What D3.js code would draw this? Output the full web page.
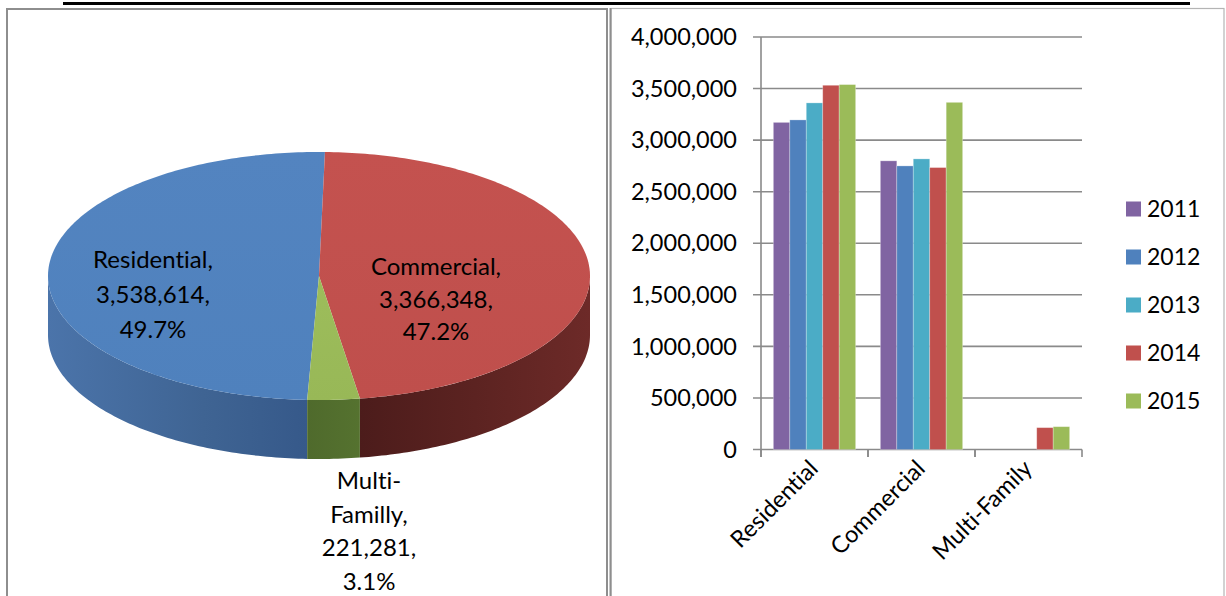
<!DOCTYPE html>
<html>
<head>
<meta charset="utf-8">
<script src="https://cdn.jsdelivr.net/npm/d3@7/dist/d3.min.js"></script>
<style>
  html, body { margin: 0; padding: 0; background: #fff; }
  svg { display: block; font-family: Lato, "Open Sans", sans-serif;
        font-variant-ligatures: none; font-feature-settings: "liga" 0, "clig" 0; }
</style>
</head>
<body>
<svg id="chart" width="1226" height="596"></svg>
<script>
// ---- data ----
const categories = ["Residential", "Commercial", "Multi-Family"];
const years = ["2011", "2012", "2013", "2014", "2015"];
const residential = [3172000, 3196000, 3361000, 3532000, 3538614];
const commercial  = [2799000, 2750000, 2818000, 2734000, 3366348];
const multiFamily = [0, 0, 0, 212000, 221281];
const yTicks = [0, 500000, 1000000, 1500000, 2000000, 2500000, 3000000, 3500000, 4000000];

// 2015 totals shown in the pie
const pieNames  = ["Residential", "Commercial", "Multi-Familly"];
const pieValues = [3538614, 3366348, 221281];

const yearColors = ["#8064a2", "#4f81bd", "#4bacc6", "#c0504d", "#9bbb59"];

const svg = d3.select("#chart");
const defs = svg.append("defs");

// ---- title underline and panel frames ----
svg.append("line").attr("x1", 63).attr("x2", 1190).attr("y1", 3.5).attr("y2", 3.5)
  .attr("stroke", "#000").attr("stroke-width", 3);
svg.append("rect").attr("x", 7).attr("y", 9).attr("width", 600).attr("height", 600)
  .attr("fill", "none").attr("stroke", "#8e8e8e").attr("stroke-width", 2);
svg.append("rect").attr("x", 611).attr("y", 8.5).attr("width", 613).attr("height", 600)
  .attr("fill", "none").attr("stroke", "#b4b4b4").attr("stroke-width", 1.2);
svg.append("line").attr("x1", 610.5).attr("x2", 610.5).attr("y1", 8).attr("y2", 596)
  .attr("stroke", "#8e8e8e").attr("stroke-width", 2);

// ---- 3D pie ----
const P = { cx: 319, cy: 276, rx: 271, ry: 124, depth: 59 };
const total = d3.sum(pieValues);
const START = 182.5 * Math.PI / 180;
const pie = d3.pie().sort(null).startAngle(START).endAngle(START + 2 * Math.PI);
const arcs = pie(pieValues).map((d, i) => ({ ...d, i }));

const px = a => P.cx + P.rx * Math.sin(a);
const py = (a, dz = 0) => P.cy - P.ry * Math.cos(a) + dz;

function topPath(a0, a1) {
  const n = Math.max(8, Math.ceil((a1 - a0) * 60));
  let s = `M${P.cx},${P.cy}`;
  for (let k = 0; k <= n; k++) {
    const a = a0 + (a1 - a0) * k / n;
    s += `L${px(a)},${py(a)}`;
  }
  return s + "Z";
}
function wallPath(a0, a1) {
  const n = Math.max(8, Math.ceil((a1 - a0) * 60));
  let s = "";
  for (let k = 0; k <= n; k++) {
    const a = a0 + (a1 - a0) * k / n;
    s += (k ? "L" : "M") + `${px(a)},${py(a)}`;
  }
  for (let k = n; k >= 0; k--) {
    const a = a0 + (a1 - a0) * k / n;
    s += `L${px(a)},${py(a, P.depth)}`;
  }
  return s + "Z";
}

// side wall gradients (darker towards the front-centre)
const wallStops = [
  [["#4b74aa", 0], ["#3f6493", 0.6], ["#36598a", 1]],   // residential
  [["#4c1c1b", 0], ["#5c2321", 0.5], ["#6d2a28", 1]],   // commercial
  [["#4f6a2c", 0], ["#55722f", 1]]                       // multi-family
];
const topStops = [
  [["#5384c0", 0], ["#4f81bd", 1]],
  [["#c4524f", 0], ["#bf4f4c", 1]],
  [["#9dbd5b", 0], ["#98b857", 1]]
];
wallStops.forEach((st, i) => {
  const g = defs.append("linearGradient").attr("id", "wall" + i)
    .attr("x1", 0).attr("x2", 1).attr("y1", 0).attr("y2", 0);
  st.forEach(([c, o]) => g.append("stop").attr("offset", o).attr("stop-color", c));
});
topStops.forEach((st, i) => {
  const g = defs.append("linearGradient").attr("id", "top" + i)
    .attr("x1", 0).attr("x2", 0).attr("y1", 0).attr("y2", 1);
  st.forEach(([c, o]) => g.append("stop").attr("offset", o).attr("stop-color", c));
});

const pieG = svg.append("g");
const TAU = 2 * Math.PI;
// visible front half of the rim lies between PI/2 and 3PI/2 (mod 2PI)
arcs.forEach(d => {
  for (const shift of [0, TAU, -TAU]) {
    const a0 = Math.max(d.startAngle + shift, Math.PI / 2);
    const a1 = Math.min(d.endAngle + shift, 3 * Math.PI / 2);
    if (a1 > a0) {
      pieG.append("path").attr("d", wallPath(a0, a1)).attr("fill", `url(#wall${d.i})`);
    }
  }
});
arcs.forEach(d => {
  pieG.append("path").attr("d", topPath(d.startAngle, d.endAngle))
    .attr("fill", `url(#top${d.i})`);
});

// pie labels
const fmt = d3.format(",");
const pct = v => (v / total * 100).toFixed(1) + "%";
const pieLabelLayout = [
  { x: 153, y: 260, lh: 35, lines: [pieNames[0] + ",", fmt(pieValues[0]) + ",", pct(pieValues[0])] },
  { x: 436, y: 267, lh: 32.5, lines: [pieNames[1] + ",", fmt(pieValues[1]) + ",", pct(pieValues[1])] },
  { x: 369, y: 481, lh: 33.5, lines: ["Multi-", "Familly,", fmt(pieValues[2]) + ",", pct(pieValues[2])] }
];
pieLabelLayout.forEach(L => {
  const t = svg.append("text").attr("text-anchor", "middle").attr("font-size", 24).attr("fill", "#000");
  L.lines.forEach((s, k) => {
    t.append("tspan").attr("x", L.x).attr("y", L.y + k * L.lh).attr("dy", "0.35em").text(s);
  });
});

// ---- clustered bars ----
const y = d3.scaleLinear().domain([0, 4000000]).range([449.5, 37]);
const x0 = d3.scaleBand().domain(categories).range([761, 1082]).padding(0);
const x1 = d3.scaleBand().domain(years).range([0, x0.bandwidth()]).paddingInner(0).paddingOuter(0.75);
const series = [residential, commercial, multiFamily];

const grid = svg.append("g");
yTicks.forEach(v => {
  grid.append("line").attr("x1", 753).attr("x2", 1082).attr("y1", y(v)).attr("y2", y(v))
    .attr("stroke", "#8a8a8a").attr("stroke-width", 1.6);
  svg.append("text").attr("x", 737).attr("y", y(v)).attr("dy", "0.35em")
    .attr("text-anchor", "end").attr("font-size", 23.5).attr("fill", "#000")
    .text(d3.format(",")(v));
});
grid.append("line").attr("x1", 761).attr("x2", 761).attr("y1", y(4000000)).attr("y2", 457)
  .attr("stroke", "#8a8a8a").attr("stroke-width", 1.6);
categories.forEach(c => {
  [x0(c), x0(c) + x0.bandwidth()].forEach(xx => {
    grid.append("line").attr("x1", xx).attr("x2", xx).attr("y1", y(0)).attr("y2", 457)
      .attr("stroke", "#8a8a8a").attr("stroke-width", 1.6);
  });
});

const barsG = svg.append("g");
categories.forEach((c, ci) => {
  years.forEach((yr, yi) => {
    const v = series[ci][yi];
    if (!v) return;
    barsG.append("rect")
      .attr("x", x0(c) + x1(yr)).attr("width", x1.bandwidth())
      .attr("y", y(v)).attr("height", y(0) - y(v))
      .attr("fill", yearColors[yi])
      .attr("stroke", "#ffffff").attr("stroke-opacity", 0.35).attr("stroke-width", 0.8);
  });
});

// category labels
categories.forEach(c => {
  const cx = x0(c) + x0.bandwidth() / 2 + 5;
  svg.append("text").attr("transform", `translate(${cx},470) rotate(-45)`)
    .attr("text-anchor", "end").attr("font-size", 23.5).attr("fill", "#000").text(c);
});

// legend
years.forEach((yr, i) => {
  const cy = 209 + i * 48;
  svg.append("rect").attr("x", 1126).attr("y", cy - 7.5).attr("width", 15).attr("height", 15)
    .attr("fill", yearColors[i]);
  svg.append("text").attr("x", 1147).attr("y", cy).attr("dy", "0.35em")
    .attr("font-size", 23).attr("fill", "#000").text(yr);
});
</script>
</body>
</html>
